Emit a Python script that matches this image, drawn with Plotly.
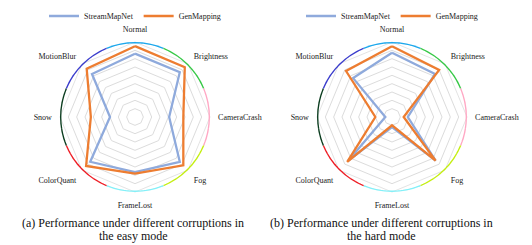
import numpy as np
import plotly.graph_objects as go

categories = ["Normal", "Brightness", "CameraCrash", "Fog", "FrameLost", "ColorQuant", "Snow", "MotionBlur"]
series_names = ["StreamMapNet", "GenMapping"]
easy_streammapnet = [76, 76, 41, 76, 66, 76, 30, 73]
easy_genmapping = [85, 84.5, 58, 82, 68, 83, 53, 82]
hard_streammapnet = [77, 73, 19, 74, 12, 75, 8, 66]
hard_genmapping = [85, 80, 14, 74, 10, 76, 20, 78]
caption_lines = [["(a) Performance under different corruptions in", "the easy mode"],
                 ["(b) Performance under different corruptions in", "the hard mode"]]

series_colors = ["#8faadc", "#ed7d31"]
ring_colors = ["#1ea8ec", "#36c846", "#ffa8c4", "#c4ee10", "#84f0f8", "#ee1c24", "#0b3d1f", "#3a3ccc"]

W, H = 532, 245
R = 75
centers = [(135, 117), (392, 117)]
cap_x = [133, 381]
cap_y = [223, 236]
font_serif = "Liberation Serif"

fig = go.Figure()
layout = dict(width=W, height=H, margin=dict(l=0, r=0, t=0, b=0),
              paper_bgcolor="white", plot_bgcolor="white", annotations=[])

angles = [i * 360 / len(categories) for i in range(len(categories))]
half = 180 / len(categories)

for k, data in enumerate([(easy_streammapnet, easy_genmapping), (hard_streammapnet, hard_genmapping)]):
    cxp, cyp = centers[k]
    dom = dict(x=[(cxp - R) / W, (cxp + R) / W], y=[(H - cyp - R) / H, (H - cyp + R) / H])
    pd_name = "polar" if k == 0 else "polar3"
    pr_name = "polar2" if k == 0 else "polar4"
    lg = "legend" if k == 0 else "legend2"
    for vals, name, col in zip(data, series_names, series_colors):
        fig.add_trace(go.Scatterpolar(
            r=list(vals) + [vals[0]], theta=categories + [categories[0]],
            mode="lines", name=name, line=dict(color=col, width=2.3),
            subplot=pd_name, legend=lg, showlegend=True))
    layout[pd_name] = dict(
        domain=dom, gridshape="linear", bgcolor="rgba(0,0,0,0)",
        radialaxis=dict(range=[0, 90], dtick=10, showticklabels=False, showline=False,
                        ticks="", gridcolor="#dcdcdc", gridwidth=0.8),
        angularaxis=dict(type="category", direction="clockwise", rotation=90,
                         categoryarray=categories, showgrid=False, showticklabels=False,
                         showline=True, linecolor="#dcdcdc", linewidth=0.8, ticks=""))
    for a, col in zip(angles, ring_colors):
        th = np.linspace(a - half, a + half, 40)
        fig.add_trace(go.Scatterpolar(
            r=[1] * len(th), theta=th, mode="lines", line=dict(color=col, width=2.8),
            subplot=pr_name, showlegend=False, hoverinfo="skip", cliponaxis=False))
    layout[pr_name] = dict(
        domain=dom, bgcolor="rgba(0,0,0,0)",
        radialaxis=dict(range=[0, 1], visible=False),
        angularaxis=dict(direction="clockwise", rotation=90, tickmode="array",
                         tickvals=angles, ticktext=categories, showgrid=False, showline=False,
                         ticks="outside", ticklen=6, tickcolor="rgba(0,0,0,0)",
                         tickfont=dict(family=font_serif, size=8, color="#222")))
    layout[lg] = dict(orientation="h", x=cxp / W, xanchor="center", y=(H - 16) / H, yanchor="middle",
                      font=dict(family=font_serif, size=8, color="#222"),
                      bgcolor="rgba(0,0,0,0)", itemwidth=30, tracegroupgap=0)
    for line_text, ly in zip(caption_lines[k], cap_y):
        layout["annotations"].append(dict(
            text=line_text, x=cap_x[k] / W, y=(H - ly) / H, xref="paper", yref="paper",
            xanchor="center", yanchor="middle", showarrow=False,
            font=dict(family=font_serif, size=12, color="#111")))

fig.update_layout(**layout)
fig.write_html("out.html", config={"displayModeBar": False},
               post_script="document.body.style.margin='0';document.body.style.overflow='hidden';")
